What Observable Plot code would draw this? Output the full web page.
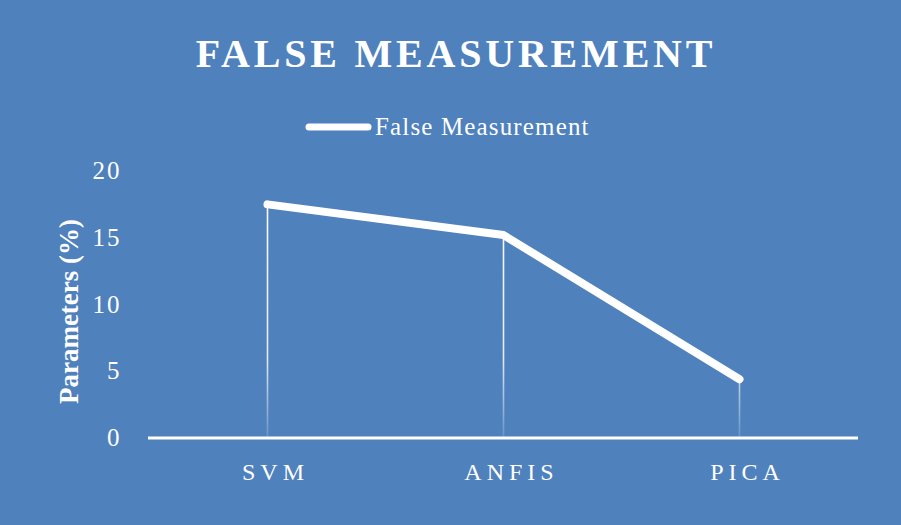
<!DOCTYPE html>
<html>
<head>
<meta charset="utf-8">
<script src="https://cdn.jsdelivr.net/npm/d3@7"></script>
<script src="https://cdn.jsdelivr.net/npm/@observablehq/plot@0.6"></script>
<style>
  html, body { margin: 0; padding: 0; background: #4f81bd; }
  #chart { position: relative; width: 901px; height: 525px; background: #4f81bd; overflow: hidden;
           font-family: "Liberation Serif", "Times New Roman", serif; color: #fff; }
  #title { height: 100px; box-sizing: border-box; padding-top: 33.8px; padding-left: 11px;
           text-align: center; font-size: 40px; line-height: 40px; font-weight: bold; letter-spacing: 3.8px; }
  #legend { height: 50px; box-sizing: border-box; padding-top: 15px; position: relative; }
  #legend .item { position: absolute; left: 305px; top: 15px; display: flex; align-items: center; height: 24px; }
  #legend .lbl { font-size: 25px; line-height: 24px; letter-spacing: 1.15px; margin-left: 3px; white-space: nowrap; }
  #plot svg { display: block; overflow: visible; }
  [aria-label="x-axis tick label"] text { letter-spacing: 5px; }
  [aria-label="y-axis tick label"] text { letter-spacing: 2px; }
  [aria-label="ylabel"] text { letter-spacing: 1px; }
</style>
</head>
<body>
<div id="chart">
  <div id="title">FALSE MEASUREMENT</div>
  <div id="legend"><div class="item">
    <svg width="67" height="12"><line x1="4" y1="6" x2="63" y2="6" stroke="#fff" stroke-width="7" stroke-linecap="round"/></svg>
    <span class="lbl">False Measurement</span>
  </div></div>
  <div id="plot"></div>
</div>
<script>
const categories = ["SVM", "ANFIS", "PICA"];
const values = [17.5, 15.2, 4.4];
const yTicks = [0, 5, 10, 15, 20];
const seriesName = "False Measurement";
const yLabel = "Parameters (%)";

const data = categories.map((c, i) => ({cat: c, value: values[i]}));

const svg = Plot.plot({
  width: 901,
  height: 375,
  marginTop: 20.5,
  marginBottom: 87.5,
  marginLeft: 148,
  marginRight: 43,
  style: {background: "transparent", color: "#fff", fontFamily: "'Liberation Serif', 'Times New Roman', serif"},
  x: {type: "point", domain: categories, padding: 0.5},
  y: {domain: [0, 20]},
  marks: [
    Plot.axisY({ticks: yTicks, tickSize: 0, tickPadding: 27, fontSize: 25, label: null, fill: "#fff"}),
    Plot.axisX({tickSize: 0, tickPadding: 24.5, fontSize: 24, label: null, fill: "#fff", dx: 8}),
    Plot.text([yLabel], {text: d => d, frameAnchor: "left", textAnchor: "middle", rotate: -90, dx: -79, dy: 7,
      fontSize: 27, fontWeight: "bold", fill: "#fff", ariaLabel: "ylabel"}),
    Plot.ruleX(data, {x: "cat", y1: 0, y2: "value", stroke: "url(#dropGrad)", strokeWidth: 1.6}),
    Plot.ruleY([0], {stroke: "#fff", strokeWidth: 3}),
    Plot.line(data, {x: "cat", y: "value", stroke: "#fff", strokeWidth: 8,
      strokeLinecap: "round", strokeLinejoin: "round"})
  ]
});

const defs = d3.select(svg).insert("defs", ":first-child");
const grad = defs.append("linearGradient").attr("id", "dropGrad")
  .attr("gradientUnits", "userSpaceOnUse").attr("x1", 0).attr("x2", 0)
  .attr("y1", 20.5).attr("y2", 287.5);
grad.append("stop").attr("offset", "0%").attr("stop-color", "#fff").attr("stop-opacity", 1);
grad.append("stop").attr("offset", "70%").attr("stop-color", "#fff").attr("stop-opacity", 0.85);
grad.append("stop").attr("offset", "100%").attr("stop-color", "#fff").attr("stop-opacity", 0.15);

document.getElementById("plot").appendChild(svg);
</script>
</body>
</html>
